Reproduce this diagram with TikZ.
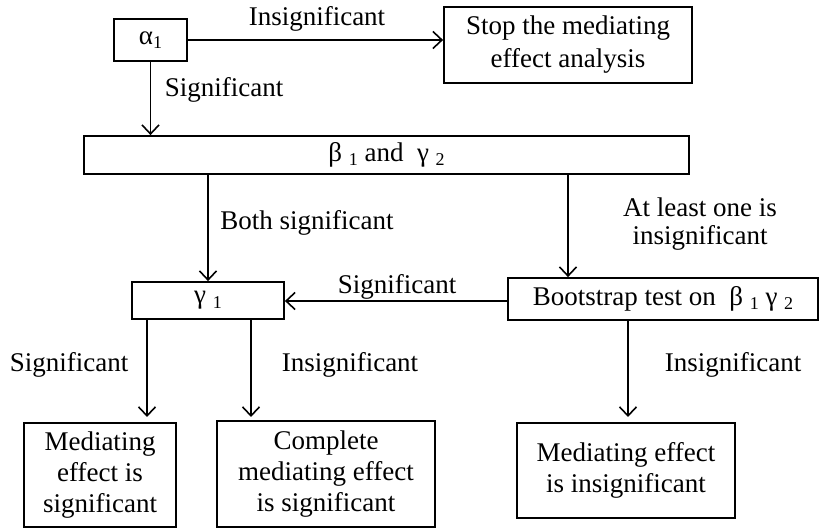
\documentclass[tikz,border=0pt]{standalone}
\usepackage{fontspec}
\setmainfont{Liberation Serif}
\usetikzlibrary{arrows.meta}
\newcommand{\sbs}[1]{\raisebox{-0.35ex}{\fontsize{18}{18}\selectfont #1}}
\begin{document}
\begin{tikzpicture}[x=1pt,y=-1pt,
  box/.style={draw, line width=1.8pt, inner sep=0pt, align=center, font=\fontsize{27}{31}\selectfont},
  lbl/.style={inner sep=0pt, align=center, font=\fontsize{27}{28}\selectfont},
  conn/.style={line width=1.6pt, -{Straight Barb[length=9pt,width=17pt,line width=1.6pt]}}]
\useasboundingbox (0,0) rectangle (820,529);
% boxes
\node[box, minimum width=73pt, minimum height=42pt] (a1) at (150.5,40) {α\sbs{1}};
\node[box, minimum width=248pt, minimum height=76pt, font=\fontsize{27}{33}\selectfont] (stop) at (568,45) {Stop the mediating\\effect analysis};
\node[box, minimum width=605pt, minimum height=38pt] (beta) at (386.5,155) {β \sbs{1} and\ \ γ \sbs{2}};
\node[box, minimum width=152pt, minimum height=37pt] (g1) at (208,300.5) {γ \sbs{1}};
\node[box, minimum width=310pt, minimum height=42pt] (boot) at (663,299) {Bootstrap test on\ \ β \sbs{1} γ \sbs{2}};
\node[box, minimum width=152pt, minimum height=104pt] (m1) at (100,475) {Mediating\\effect is\\significant};
\node[box, minimum width=218pt, minimum height=106pt] (m2) at (326,474) {Complete\\mediating effect\\is significant};
\node[box, minimum width=218pt, minimum height=95pt] (m3) at (626,470.5) {Mediating effect\\is insignificant};
% helper coordinates
\coordinate (cB) at (568,0);
\coordinate (cS) at (0,301);
\coordinate (t1) at (147,417);
\coordinate (t2) at (251,417);
\coordinate (t3) at (628,417);
% connectors
\draw[conn] (a1.east) -- (a1.east -| stop.west);
\draw[conn] (a1.south) -- (a1.south |- beta.north);
\draw[conn] (beta.south -| g1.north) -- (g1.north);
\draw[conn] (beta.south -| cB) -- (boot.north -| cB);
\draw[conn] (boot.west |- cS) -- (g1.east |- cS);
\draw[conn] (g1.south -| t1) -- (t1);
\draw[conn] (g1.south -| t2) -- (t2);
\draw[conn] (boot.south -| t3) -- (t3);
% labels
\node[lbl] (l1) at (317,19) {Insignificant};
\node[lbl] (l2) at (224,90) {Significant};
\node[lbl] (l3) at (307,223) {Both significant};
\node[lbl, font=\fontsize{27}{28}\selectfont] (l4) at (700,224) {At least one is\\insignificant};
\node[lbl] (l5) at (397,287) {Significant};
\node[lbl] (l6) at (69,365) {Significant};
\node[lbl] (l7) at (350,365) {Insignificant};
\node[lbl] (l8) at (733,365) {Insignificant};
\end{tikzpicture}
\end{document}
